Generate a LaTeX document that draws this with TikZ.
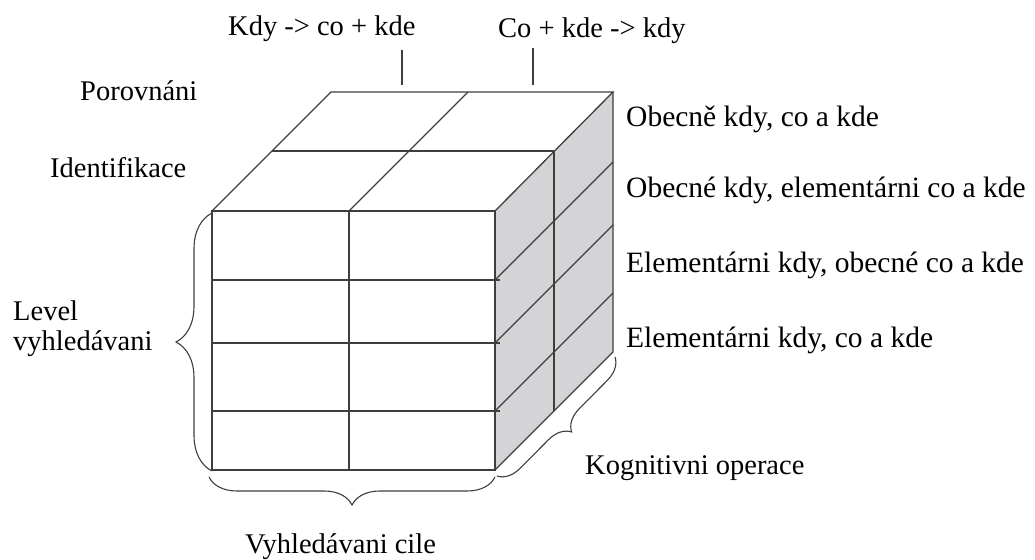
\documentclass[tikz,border=0pt]{standalone}
\usepackage{fontspec}
\setmainfont{Liberation Serif}
\usetikzlibrary{decorations.pathreplacing}
\definecolor{edge}{RGB}{62,62,62}
\definecolor{side}{RGB}{212,212,215}
\tikzset{
  cubeline/.style={draw=edge, line width=1.3pt, line join=miter},
  lbl/.style={anchor=base west, inner sep=0pt, text=black, font=\fontsize{28.5}{34}\selectfont},
  rlbl/.style={lbl, font=\fontsize{29.5}{35}\selectfont},
  bracket/.style={draw=edge, line width=1.1pt, decorate, decoration={brace, amplitude=#1}},
  tickline/.style={draw=edge, line width=1.3pt}
}
\begin{document}
\begin{tikzpicture}[x=1pt,y=-1pt]
\useasboundingbox (0,0) rectangle (1035,559);

% cube corners
\coordinate (F1) at (212,211);
\coordinate (F2) at (495,211);
\coordinate (F3) at (495,470);
\coordinate (F4) at (212,470);
\coordinate (B1) at (331,92);
\coordinate (B2) at (613,92);
\coordinate (B3) at (613,352);

% shaded side face
\fill[side] (F2) -- (B2) -- (B3) -- (F3) -- cycle;

% front face grid
\draw[cubeline] (F1) -- (F2) -- (F3) -- (F4) -- cycle;
\draw[cubeline] (349,211) -- (349,470);
\foreach \r in {280,343,411}{
  \draw[cubeline] (212,\r) -- (500,\r);
}

% top face grid
\draw[cubeline] (F1) -- (B1) -- (B2) -- (F2);
\draw[cubeline] (349,211) -- (468,92);
\draw[cubeline] (272,151) -- (554,151);

% side face grid
\draw[cubeline] (B2) -- (B3) -- (F3);
\draw[cubeline] (554,151) -- (554,411);
\foreach \r in {280,343,411}{
  \draw[cubeline] (495,\r) -- ++(118,-118);
}

% axis ticks at the top
\coordinate (t1a) at (402,50);
\coordinate (t1b) at (402,85);
\coordinate (t2a) at (533,48);
\coordinate (t2b) at (533,85);
\draw[tickline] (t1a) -- (t1b);
\draw[tickline] (t2a) -- (t2b);

% braces
\coordinate (lb1) at (212,471);
\coordinate (lb2) at (212,213);
\coordinate (bb1) at (495,477);
\coordinate (bb2) at (209,477);
\coordinate (rb1) at (615,357);
\coordinate (rb2) at (497,476);
\draw[bracket=36pt] (lb1) -- (lb2);
\draw[bracket=28pt] (bb1) -- (bb2);
\draw[bracket=22pt] (rb1) -- (rb2);

% labels
\node[lbl] (kdy) at (228,36) {Kdy -> co + kde};
\node[lbl] (cokde) at (498,38) {Co + kde -> kdy};
\node[lbl] (porov) at (80,101) {Porovnáni};
\node[lbl] (ident) at (50,177) {Identifikace};
\node[rlbl] (r1) at (626,126) {Obecně kdy, co a kde};
\node[rlbl] (r2) at (626,197) {Obecné kdy, elementárni co a kde};
\node[rlbl] (r3) at (626,272) {Elementárni kdy, obecné co a kde};
\node[rlbl] (r4) at (626,347) {Elementárni kdy, co a kde};
\node[lbl] (kog) at (585,474) {Kognitivni operace};
\node[lbl] (lev1) at (13,320) {Level};
\node[lbl] (lev2) at (13,350) {vyhledávani};
\node[lbl] (cil) at (245,553) {Vyhledávani cile};
\end{tikzpicture}
\end{document}
